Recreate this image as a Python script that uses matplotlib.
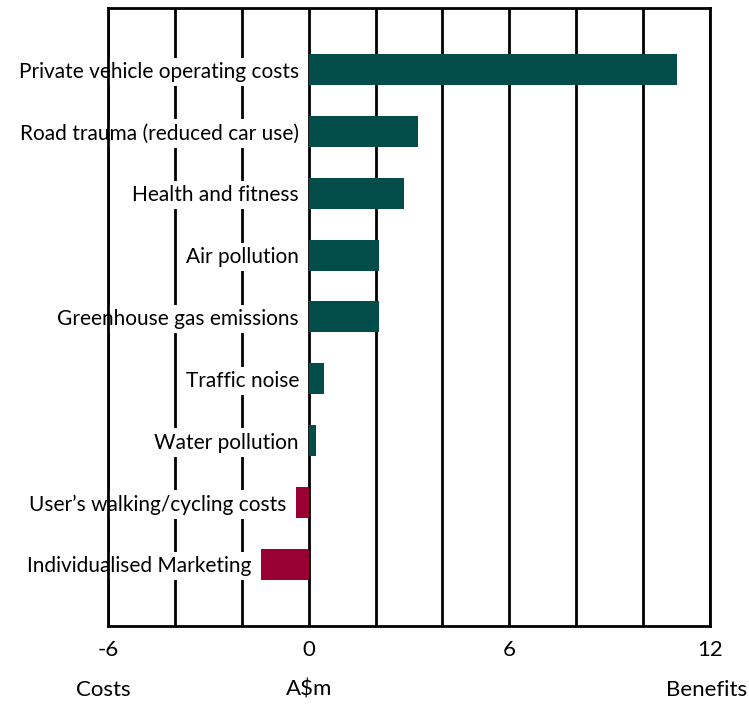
import matplotlib.pyplot as plt

# categories and values (A$m)
labels = ["Private vehicle operating costs", "Road trauma (reduced car use)",
          "Health and fitness", "Air pollution", "Greenhouse gas emissions",
          "Traffic noise", "Water pollution", "User\u2019s walking/cycling costs",
          "Individualised Marketing"]
values = [11.0, 3.26, 2.84, 2.1, 2.1, 0.47, 0.21, -0.37, -1.42]
ticks = [-6, 0, 6, 12]

teal = "#024c4a"
crimson = "#990033"

plt.rcParams['font.family'] = ['Lato', 'DejaVu Sans']

fig = plt.figure(figsize=(7.49, 7.04), dpi=100)
ax = fig.add_axes([0.1442, 0.1108, 0.8038, 0.878])

colors = [teal if v >= 0 else crimson for v in values]
ypos = list(range(len(labels)))
ax.barh(ypos, values, height=0.5, color=colors, zorder=3)

# vertical grid every 2
for x in range(-6, 13, 2):
    ax.axvline(x, color="black", lw=2, zorder=1)

# category labels just left of zero / the negative bar, on white
for y, lab, v in zip(ypos, labels, values):
    ax.annotate(lab, xy=(min(0, v), y), xytext=(-7, 0), textcoords="offset points",
                ha="right", va="center_baseline", fontsize=15, zorder=4,
                bbox=dict(boxstyle="square,pad=0.2", fc="white", ec="none"))

ax.set_xlim(-6, 12)
ax.set_ylim(len(labels), -1)
ax.set_yticks([])
ax.set_xticks(ticks)
ax.set_xticklabels([str(t) for t in ticks], fontsize=16)
ax.tick_params(axis="x", length=0, pad=10)
for s in ax.spines.values():
    s.set_linewidth(2)
    s.set_zorder(5)

fig.text(103 / 749, 1 - 690 / 704, "Costs", ha="center", va="center", fontsize=16)
fig.text(309 / 749, 1 - 690 / 704, "A$m", ha="center", va="center", fontsize=16)
fig.text(747 / 749, 1 - 690 / 704, "Benefits", ha="right", va="center", fontsize=16)

fig.savefig("out.png", dpi=100)
